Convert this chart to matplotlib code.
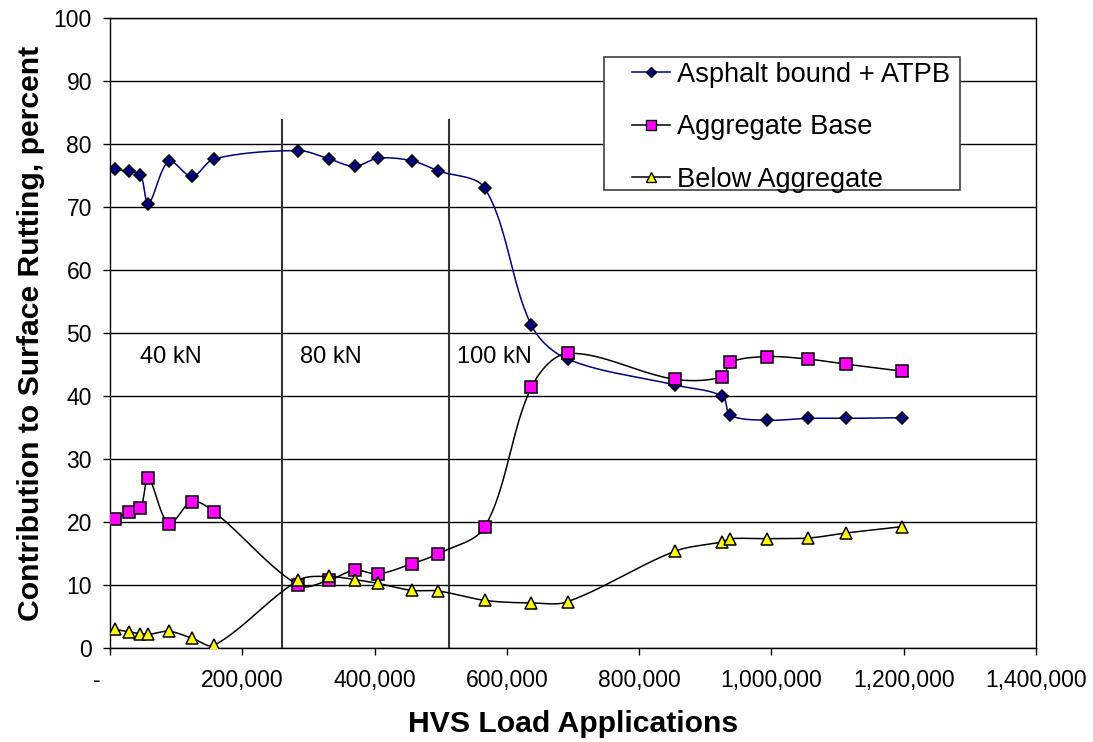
import numpy as np
import matplotlib
matplotlib.use('Agg')
import matplotlib.pyplot as plt
from matplotlib.lines import Line2D
from matplotlib.patches import Rectangle
from matplotlib.ticker import FuncFormatter

plt.rcParams['font.family'] = ['Liberation Sans', 'DejaVu Sans']

# HVS load applications (x) and contribution of each layer (percent)
loads = [7500, 29000, 46000, 58000, 89000, 124000, 158000, 285000, 331000, 370000,
         405000, 456000, 496000, 567000, 637000, 692000, 854000, 926000, 938000,
         993000, 1056000, 1113000, 1197000]
asphalt = [76.1, 75.7, 75.2, 70.6, 77.3, 74.9, 77.7, 79.0, 77.7, 76.5, 77.8, 77.4,
           75.8, 73.0, 51.3, 45.9, 41.8, 40.0, 37.0, 36.2, 36.5, 36.5, 36.6]
aggregate = [20.6, 21.6, 22.2, 27.0, 19.8, 23.3, 21.6, 10.0, 10.8, 12.4, 11.8, 13.4,
             15.0, 19.3, 41.4, 46.8, 42.7, 43.1, 45.4, 46.3, 45.9, 45.1, 44.0]
below = [3.0, 2.6, 2.3, 2.2, 2.7, 1.6, 0.5, 10.8, 11.4, 10.9, 10.3, 9.2, 9.1, 7.6,
         7.2, 7.4, 15.4, 16.9, 17.4, 17.4, 17.5, 18.3, 19.3]

# load level changes and their labels
stage_breaks = [260000, 513000]
stage_labels = ['40 kN', '80 kN', '100 kN']
stage_label_x = [45000, 287000, 525000]


def smooth(xs, ys, n=25):
    # Excel-like smoothed line: cubic Bezier, handles weighted by segment length (screen space)
    scale = np.array([926 / 1.4e6, 6.3])
    Q = np.column_stack([xs, ys]).astype(float) * scale
    d = np.hypot(*np.diff(Q, axis=0).T)
    t = np.linspace(0, 1, n)[1:, None]
    out = [Q[0]]
    for i in range(len(Q) - 1):
        p1, p2 = Q[i], Q[i + 1]
        if i > 0:
            c1 = p1 + (p2 - Q[i - 1]) * d[i] / (d[i - 1] + d[i]) / 3
        else:
            c1 = p1 + (p2 - p1) / 3
        if i + 2 < len(Q):
            c2 = p2 - (Q[i + 2] - p1) * d[i] / (d[i] + d[i + 1]) / 3
        else:
            c2 = p2 - (p2 - p1) / 3
        seg = (1 - t)**3 * p1 + 3 * (1 - t)**2 * t * c1 + 3 * (1 - t) * t**2 * c2 + t**3 * p2
        out.extend(seg)
    out = np.array(out) / scale
    return out[:, 0], out[:, 1]


fig = plt.figure(figsize=(10.93, 7.42), dpi=100)
ax = fig.add_axes([0.1006, 0.1263, 0.8472, 0.849])

series = [
    ('Asphalt bound + ATPB', asphalt, '#000080', 'D', '#000080', 6.5),
    ('Aggregate Base', aggregate, 'black', 's', '#FF00FF', 8.8),
    ('Below Aggregate', below, 'black', '^', '#FFFF00', 9),
]

handles = []
for i, (name, vals, lc, mk, fc, ms) in enumerate(series):
    sx, sy = smooth(loads, vals)
    ax.plot(sx, sy, color=lc, lw=1.1, zorder=3 + i)
    ax.plot(loads, vals, ls='none', marker=mk, markerfacecolor=fc,
            markeredgecolor='black', markeredgewidth=1.1, markersize=ms, zorder=3 + i)
    handles.append(Line2D([], [], color=lc, lw=1.1, marker=mk, markerfacecolor=fc,
                          markeredgecolor='black', markeredgewidth=1,
                          markersize=ms * 0.8, label=name))

ax.vlines(stage_breaks, 0, 84, color='#333333', lw=1.5, zorder=2)
for lab, lx in zip(stage_labels, stage_label_x):
    ax.text(lx, 46.2, lab, fontsize=17, va='center', ha='left')

ax.set_xlim(0, 1400000)
ax.set_ylim(0, 100)
ax.set_xticks(np.arange(0, 1400001, 200000))
ax.set_yticks(np.arange(0, 101, 10))
ax.xaxis.set_major_formatter(FuncFormatter(lambda v, p: '-    ' if v == 0 else f'{int(v):,}'))
ax.grid(axis='y', color='black', lw=1)
ax.set_axisbelow(True)
for s in ax.spines.values():
    s.set_color('black')
    s.set_linewidth(1)
ax.tick_params(axis='both', direction='out', length=5, width=1, labelsize=16.5)
ax.tick_params(axis='x', pad=10)
ax.tick_params(axis='y', pad=8)

ax.set_xlabel('HVS Load Applications', fontsize=21.7, fontweight='bold', labelpad=13)
ax.set_ylabel('Contribution to Surface Rutting, percent', fontsize=21.7, fontweight='bold', labelpad=6)

# legend box drawn by hand so the handles can sit further in from the left edge
box = Rectangle((604 / 1093, 1 - 190 / 742), (960 - 604) / 1093, 133 / 742,
                transform=fig.transFigure, facecolor='white', edgecolor='#404040',
                lw=1.2, zorder=9, clip_on=False)
ax.add_patch(box)
leg = ax.legend(handles=handles, loc='upper left', bbox_to_anchor=(632 / 1093, 1 - 62 / 742),
                bbox_transform=fig.transFigure, fontsize=19.6, frameon=False,
                handlelength=1.4, handletextpad=0.26, labelspacing=0.97, borderpad=0,
                borderaxespad=0)
leg.set_zorder(10)

fig.savefig('out.png', dpi=100)
